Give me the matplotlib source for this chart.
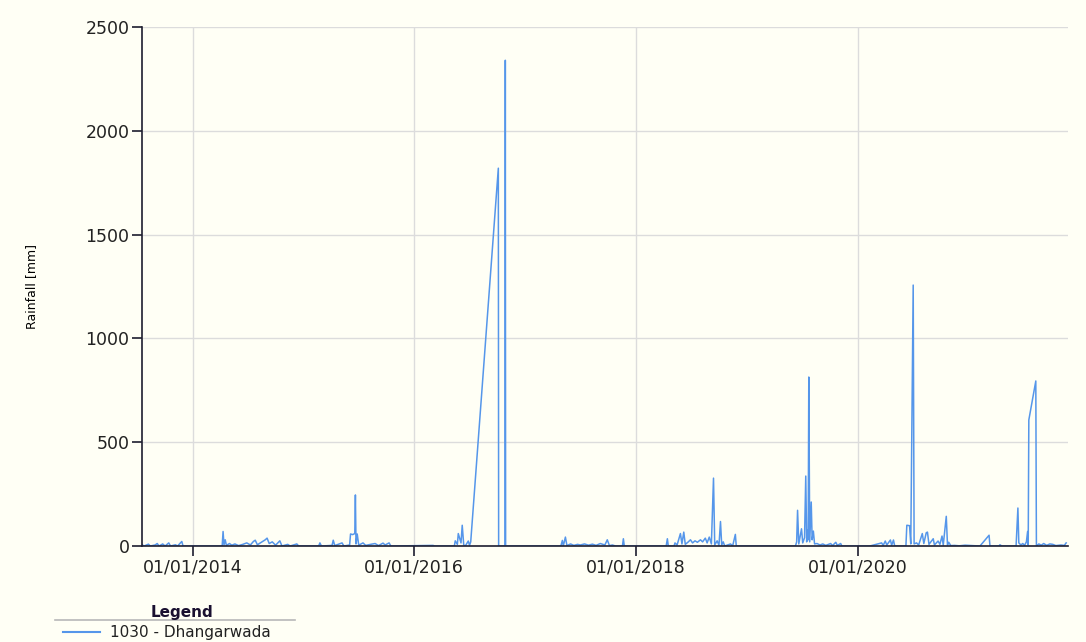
import pandas as pd
import matplotlib
matplotlib.use('Agg')
import matplotlib.pyplot as plt
import matplotlib.dates as mdates
from matplotlib.lines import Line2D

# daily rainfall readings, station 1030 - Dhangarwada
dates = [
    '2013-07-18', '2013-07-25', '2013-08-08', '2013-08-14', '2013-08-30', '2013-09-06', '2013-09-12',
    '2013-09-24', '2013-10-02', '2013-10-14', '2013-10-20', '2013-11-05', '2013-11-12', '2013-11-26',
    '2013-11-30',
    '2014-04-08', '2014-04-11', '2014-04-14', '2014-04-18', '2014-04-22', '2014-05-02', '2014-05-10',
    '2014-05-20', '2014-06-01', '2014-06-15', '2014-06-28', '2014-07-10', '2014-07-20', '2014-07-26',
    '2014-08-02', '2014-08-15', '2014-08-28', '2014-09-03', '2014-09-10', '2014-09-20', '2014-10-01',
    '2014-10-15', '2014-10-22', '2014-11-10', '2014-11-18', '2014-12-10', '2014-12-16',
    '2015-02-20', '2015-02-24', '2015-03-01', '2015-04-05', '2015-04-09', '2015-04-14', '2015-05-08',
    '2015-05-14', '2015-06-02', '2015-06-05', '2015-06-12', '2015-06-19', '2015-06-21', '2015-06-23',
    '2015-06-27', '2015-07-02', '2015-07-16', '2015-07-25', '2015-08-10', '2015-08-25', '2015-09-05',
    '2015-09-20', '2015-09-27', '2015-10-10', '2015-10-16',
    '2016-03-03', '2016-03-08', '2016-05-12', '2016-05-15', '2016-05-22', '2016-05-25', '2016-06-03',
    '2016-06-07', '2016-06-12', '2016-06-17', '2016-06-27', '2016-07-01', '2016-07-05', '2016-10-04',
    '2016-10-05', '2016-10-26', '2016-10-27', '2016-10-28',
    '2017-04-28', '2017-05-03', '2017-05-06', '2017-05-13', '2017-05-18', '2017-05-30', '2017-06-10',
    '2017-06-22', '2017-07-01', '2017-07-15', '2017-07-28', '2017-08-10', '2017-08-22', '2017-09-05',
    '2017-09-20', '2017-09-28', '2017-10-05', '2017-10-15', '2017-10-25', '2017-11-17', '2017-11-20',
    '2017-11-23',
    '2018-04-10', '2018-04-14', '2018-04-17', '2018-05-06', '2018-05-09', '2018-05-16', '2018-05-27',
    '2018-06-01', '2018-06-07', '2018-06-12', '2018-06-22', '2018-06-29', '2018-07-06', '2018-07-14',
    '2018-07-22', '2018-08-01', '2018-08-08', '2018-08-17', '2018-08-23', '2018-08-30', '2018-09-06',
    '2018-09-13', '2018-09-17', '2018-09-25', '2018-10-01', '2018-10-06', '2018-10-10', '2018-10-15',
    '2018-10-20', '2018-11-08', '2018-11-15', '2018-11-24', '2018-11-27',
    '2019-06-10', '2019-06-14', '2019-06-17', '2019-06-21', '2019-06-30', '2019-07-04', '2019-07-10',
    '2019-07-14', '2019-07-17', '2019-07-20', '2019-07-22', '2019-07-24', '2019-07-27', '2019-08-01',
    '2019-08-04', '2019-08-08', '2019-08-12', '2019-08-20', '2019-08-30', '2019-09-08', '2019-09-18',
    '2019-10-04', '2019-10-10', '2019-10-21', '2019-10-26', '2019-11-06', '2019-11-10',
    '2020-02-10', '2020-03-20', '2020-03-25', '2020-04-01', '2020-04-06', '2020-04-18', '2020-04-22',
    '2020-04-28', '2020-05-02', '2020-06-08', '2020-06-11', '2020-06-20', '2020-06-24', '2020-07-02',
    '2020-07-05', '2020-07-13', '2020-07-20', '2020-08-01', '2020-08-06', '2020-08-14', '2020-08-18',
    '2020-08-23', '2020-09-06', '2020-09-10', '2020-09-22', '2020-09-28', '2020-10-05', '2020-10-09',
    '2020-10-19', '2020-10-23', '2020-10-27', '2020-11-03', '2020-11-15', '2020-12-01', '2020-12-20',
    '2021-01-15', '2021-02-07', '2021-03-09', '2021-03-12', '2021-04-10', '2021-04-14', '2021-04-20',
    '2021-06-06', '2021-06-12', '2021-06-15', '2021-06-22', '2021-06-28', '2021-07-04', '2021-07-10',
    '2021-07-14', '2021-07-16', '2021-07-18', '2021-08-10', '2021-08-12', '2021-08-20', '2021-08-28',
    '2021-09-05', '2021-09-15', '2021-09-25', '2021-10-05', '2021-10-15', '2021-11-01', '2021-11-12',
    '2021-11-18',
]
rain = [
    6, 0, 9, 0, 5, 12, 0,
    10, 0, 15, 0, 6, 0, 22,
    0,
    0, 70, 5, 30, 3, 12, 4,
    10, 2, 8, 15, 5, 22, 28,
    6, 18, 30, 38, 12, 20, 4,
    25, 0, 8, 0, 10, 0,
    0, 15, 0, 3, 28, 2, 15,
    0, 5, 58, 55, 60, 246, 10,
    58, 4, 15, 3, 8, 12, 2,
    14, 5, 15, 0,
    3, 0, 0, 25, 8, 60, 15,
    100, 5, 0, 24, 3, 20, 1820,
    0, 0, 2340, 0,
    0, 27, 0, 43, 2, 10, 3,
    8, 5, 10, 4, 9, 3, 12,
    5, 30, 2, 5, 0, 0, 35,
    0,
    0, 35, 0, 0, 15, 5, 60,
    10, 67, 8, 20, 30, 15, 25,
    18, 30, 20, 38, 15, 43, 10,
    327, 5, 25, 3, 118, 5, 20,
    0, 10, 0, 56, 0,
    0, 20, 172, 10, 83, 15, 40,
    337, 20, 75, 30, 814, 20, 212,
    30, 72, 10, 12, 5, 10, 3,
    12, 2, 18, 3, 12, 0,
    0, 15, 3, 24, 5, 29, 3,
    29, 0, 0, 100, 98, 10, 1257,
    10, 15, 5, 60, 12, 64, 67,
    8, 35, 5, 24, 8, 48, 4,
    143, 5, 18, 2, 3, 1, 4,
    2, 0, 52, 0, 0, 6, 0,
    0, 183, 15, 5, 12, 3, 20,
    70, 5, 607, 795, 0, 10, 4,
    12, 3, 10, 8, 2, 5, 3,
    15,
]

year_ticks = ['2014-01-01', '2016-01-01', '2018-01-01', '2020-01-01']
y_ticks = [0, 500, 1000, 1500, 2000, 2500]

df = pd.DataFrame({'date': pd.to_datetime(dates), 'rain': rain})

bg = '#fffff5'
blue = '#5596ea'
fig = plt.figure(figsize=(10.86, 6.42), dpi=100, facecolor=bg)
ax = fig.add_axes([0.1308, 0.1495, 0.8526, 0.8084], facecolor=bg)

ax.plot(df['date'], df['rain'], color=blue, lw=1.1)

ax.set_xlim(pd.Timestamp('2013-07-18'), pd.Timestamp('2021-11-24'))
ax.set_ylim(0, 2500)
ax.set_xticks(pd.to_datetime(year_ticks))
ax.xaxis.set_major_formatter(mdates.DateFormatter('%d/%m/%Y'))
ax.set_yticks(y_ticks)

ax.grid(True, color='#dcdcdc', lw=1)
ax.set_axisbelow(True)
for s in ['top', 'right']:
    ax.spines[s].set_visible(False)
for s in ['left', 'bottom']:
    ax.spines[s].set_color('#1e1e30')
    ax.spines[s].set_linewidth(1.2)
ax.tick_params(axis='both', direction='out', length=7, width=1.2, color='#1e1e30',
               labelsize=12.5, labelcolor='#222222', pad=2)

ax.set_ylabel('Rainfall [mm]', fontsize=9, family=['Liberation Sans Narrow', 'DejaVu Sans'])
ax.yaxis.set_label_coords(-0.112, 0.5)

# legend block under the plot
fig.text(182 / 1086, 1 - 612 / 642, 'Legend', ha='center', va='center',
         fontsize=11, fontweight='bold', color='#1a1030')
fig.add_artist(Line2D([55 / 1086, 295 / 1086], [1 - 620 / 642, 1 - 620 / 642],
                      color='#b8b8b8', lw=1.2))
fig.add_artist(Line2D([63 / 1086, 100 / 1086], [1 - 632 / 642, 1 - 632 / 642],
                      color=blue, lw=1.5))
fig.text(110 / 1086, 1 - 633 / 642, '1030 - Dhangarwada', ha='left', va='center',
         fontsize=11, color='#222222')

fig.savefig('out.png', dpi=100, facecolor=bg)
